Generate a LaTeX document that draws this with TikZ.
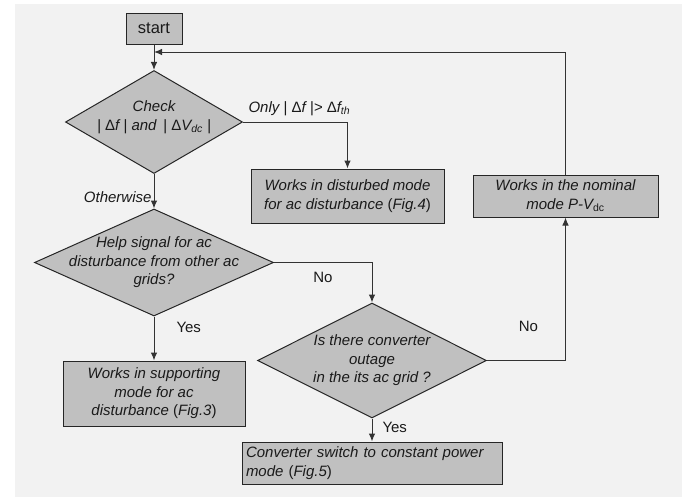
\documentclass[tikz,border=0pt]{standalone}
\usepackage{fontspec}
\setmainfont{Liberation Sans}
\usetikzlibrary{shapes.geometric,arrows.meta}
\definecolor{bggray}{HTML}{F2F2F2}
\definecolor{boxgray}{HTML}{C0C0C0}
\definecolor{linegray}{HTML}{333333}
\definecolor{txtgray}{HTML}{1A1A1A}
\tikzset{
  box/.style={draw=black!85, line width=1pt, fill=boxgray, text=txtgray, align=center, inner sep=2pt},
  dia/.style={diamond, draw=black!85, line width=1pt, fill=boxgray, inner sep=0pt},
  diatxt/.style={text=txtgray, align=center, font=\itshape},
  lbl/.style={text=txtgray},
  flow/.style={draw=linegray, line width=1pt, -{Latex[length=8pt,width=6.5pt]}},
}
\begin{document}
\fontsize{15}{18.5}\selectfont
\begin{tikzpicture}[x=1pt,y=-1pt]
  \useasboundingbox[fill=white] (0,0) rectangle (691,498);
  \fill[bggray] (15,4) rectangle (682,497);
  % boxes
  \node[box, font=\fontsize{16.5}{19}\selectfont, minimum width=56, minimum height=31] (start) at (154,28.5) {start};
  \node[box, font=\itshape, minimum width=193, minimum height=54] (disturbed) at (347.5,196)
    {Works in disturbed mode\\for ac disturbance {\upshape(}Fig.4{\upshape)}};
  \node[box, font=\itshape, minimum width=185, minimum height=42] (nominal) at (565.5,196)
    {Works in the nominal\\mode P-V\textsubscript{\upshape dc}};
  \node[box, font=\itshape, minimum width=182, minimum height=65] (support) at (154,393.5)
    {Works in supporting\\mode for ac\\disturbance {\upshape(}Fig.3{\upshape)}};
  \node[box, font=\itshape, align=left, text width=252, inner xsep=4pt, minimum height=42] (convert) at (372,463)
    {Converter switch to constant power\\mode {\upshape(}Fig.5{\upshape)}};
  % decisions
  \node[dia, minimum width=177, minimum height=103,
    label={[diatxt, yshift=5pt]center:{Check\\| {\upshape Δ}f | and\, | {\upshape Δ}V\textsubscript{dc} |}}] (check) at (154,122) {};
  \node[dia, minimum width=239, minimum height=107,
    label={[diatxt]center:{Help signal for ac\\disturbance from other ac\\grids?}}] (help) at (154,262.5) {};
  \node[dia, minimum width=229, minimum height=115,
    label={[diatxt]center:{Is there converter\\outage\\in the its ac grid ?}}] (outage) at (372,360.5) {};
  \coordinate (loop) at (154,52);
  % connectors
  \draw[flow] (start) -- (check);
  \draw[flow] (nominal.north) |- (loop);
  \draw[flow] (check.east) -| (disturbed.north)
    node[lbl, font=\itshape, pos=0, anchor=south west, yshift=1pt] {Only | {\upshape Δ}f |> {\upshape Δ}f\textsubscript{th}};
  \draw[flow] (check) -- (help) node[lbl, font=\itshape, pos=0.66, left, inner sep=2pt] {Otherwise};
  \draw[flow] (help.east) -| (outage.north) node[lbl, pos=0.25, below=4pt] {No};
  \draw[flow] (help) -- (support) node[lbl, pos=0.25, right=17pt] {Yes};
  \draw[flow] (outage.east) -| (nominal.south) node[lbl, pos=0.62, left=22pt] {No};
  \draw[flow] (outage) -- (convert) node[lbl, pos=0.4, right=5pt] {Yes};
\end{tikzpicture}
\end{document}
